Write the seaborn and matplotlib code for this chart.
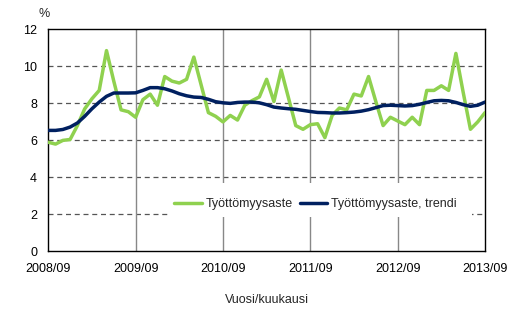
import matplotlib
matplotlib.use("Agg")
import matplotlib.pyplot as plt
import seaborn as sns
import pandas as pd
import numpy as np
from matplotlib.ticker import MultipleLocator
from matplotlib.patches import Rectangle

# Data: monthly, 2008/09 .. 2013/09
rate = [5.9, 5.8, 6.0, 6.05, 6.8, 7.7, 8.25, 8.7, 10.85, 9.2, 7.65, 7.55,
        7.25, 8.2, 8.5, 7.9, 9.45, 9.2, 9.1, 9.3, 10.5, 9.0, 7.5, 7.3,
        7.0, 7.35, 7.1, 7.9, 8.15, 8.35, 9.3, 8.1, 9.8, 8.3, 6.8, 6.6,
        6.85, 6.9, 6.15, 7.35, 7.75, 7.65, 8.5, 8.4, 9.45, 8.1, 6.8, 7.25,
        7.05, 6.85, 7.25, 6.85, 8.7, 8.7, 8.95, 8.7, 10.7, 8.6, 6.6, 7.0,
        7.5]
trend = [6.54, 6.54, 6.59, 6.72, 6.94, 7.3, 7.71, 8.07, 8.38, 8.56, 8.56, 8.56,
         8.57, 8.7, 8.85, 8.85, 8.79, 8.67, 8.52, 8.41, 8.34, 8.32, 8.22, 8.09,
         8.03, 8.0, 8.05, 8.07, 8.07, 8.03, 7.93, 7.8, 7.75, 7.71, 7.68, 7.62,
         7.56, 7.51, 7.5, 7.48, 7.48, 7.5, 7.53, 7.58, 7.66, 7.77, 7.88, 7.9,
         7.88, 7.86, 7.88, 7.95, 8.05, 8.14, 8.16, 8.14, 8.05, 7.93, 7.84, 7.9,
         8.07]
month_index = list(range(len(rate)))
tick_labels = ["2008/09", "2009/09", "2010/09", "2011/09", "2012/09", "2013/09"]
series_names = ["Työttömyysaste", "Työttömyysaste, trendi"]

sns.set_style("white")
plt.rcParams['font.family'] = ['Liberation Sans', 'DejaVu Sans']
plt.rcParams['font.size'] = 9

df = pd.DataFrame({
    "m": month_index * 2,
    "v": rate + trend,
    "s": [series_names[0]] * len(rate) + [series_names[1]] * len(trend),
})

fig = plt.figure(figsize=(5.19, 3.12), dpi=100)
ax = fig.add_axes([0.093, 0.194, 0.8415, 0.712])

sns.lineplot(data=df, x="m", y="v", hue="s", hue_order=series_names,
             palette=["#8fd14f", "#002060"], linewidth=2.5, ax=ax,
             legend=True, zorder=3)

ax.set_xlim(0, 60)
ax.set_ylim(0, 12)
ax.set_xticks(range(0, 61, 12))
ax.set_xticklabels(tick_labels)
ax.xaxis.set_minor_locator(MultipleLocator(1))
ax.set_yticks(range(0, 13, 2))
ax.set_yticklabels([str(v) for v in range(0, 13, 2)])

for v in range(2, 12, 2):
    ax.axhline(v, color="#555555", linestyle=(0, (4, 3)), linewidth=0.9, zorder=1)
for v in range(12, 60, 12):
    ax.axvline(v, color="#888888", linewidth=1.0, zorder=1)

for sp in ax.spines.values():
    sp.set_color("black")
    sp.set_linewidth(1.0)
    sp.set_visible(True)

ax.tick_params(axis="x", which="major", direction="out", length=5, width=1,
               colors="black", labelsize=9, pad=3)
ax.tick_params(axis="x", which="minor", direction="in", length=3, width=0.8,
               colors="black")
ax.tick_params(axis="y", which="major", direction="out", length=5, width=1,
               colors="black", labelsize=9, pad=3)

ax.set_xlabel("Vuosi/kuukausi", fontsize=9, labelpad=14)
ax.set_ylabel("")
ax.text(-0.01, 1.04, "%", transform=ax.transAxes, ha="center", va="bottom",
        fontsize=9)

# white box behind legend (covers grid lines like in the reference)
ax.add_patch(Rectangle((0.274, 0.155), 0.696, 0.153, transform=ax.transAxes,
                       facecolor="white", edgecolor="none", zorder=2))

leg = ax.legend(loc="center left", bbox_to_anchor=(0.288, 0.214),
                ncol=2, frameon=False, fontsize=9,
                handlelength=2.2, handletextpad=0.3, columnspacing=0.6,
                borderaxespad=0, borderpad=0.0)
leg.set_zorder(5)
for line in leg.get_lines():
    line.set_linewidth(2.5)

fig.savefig("out.png", dpi=100)
